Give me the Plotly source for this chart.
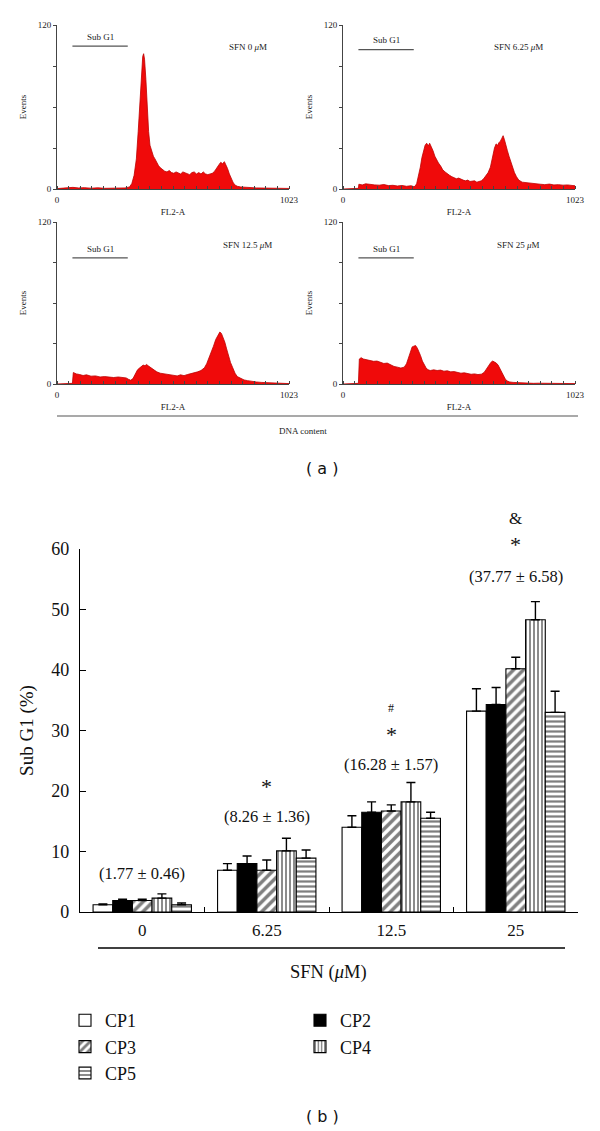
import plotly.graph_objects as go

# ---------------- data: panel (a) histograms (channel, events) ----------------
hist_0 = [(0,0.3),(20,0.5),(45,0.8),(70,1.2),(95,0.8),(120,1.0),(150,0.6),(180,0.9),(210,0.5),(240,0.7),
          (270,0.4),(300,0.8),(320,1.5),(330,4),(340,10),(350,22),(358,42),(365,65),(372,85),(378,97),
          (382,99),(386,95),(392,80),(398,60),(404,42),(410,32),(418,27),(425,24),(432,22),(440,19),
          (448,17),(456,15.5),(465,14),(475,13),(485,12.5),(495,13.5),(505,12),(515,11.5),(525,12.5),
          (535,12),(545,11),(555,12.5),(565,12),(575,11.5),(585,10.5),(595,12),(605,12.5),(615,11),
          (625,12),(635,11),(645,12.5),(655,11),(665,10.5),(675,11),(685,11.5),(695,13),(705,16),
          (715,18),(722,19.5),(730,18.5),(738,20),(745,18),(752,15),(760,11),(768,7.5),(776,5),(784,3),
          (795,2),(810,1.5),(830,1.2),(850,1.0),(880,0.8),(910,0.7),(940,0.6),(970,0.5),(1000,0.4),(1023,0.4)]

hist_625 = [(0,0),(60,0),(68,0.5),(70,3.5),(85,3),(100,3.8),(120,3.2),(140,3),(160,2.8),(180,3.3),
            (200,2.5),(220,2.7),(240,2.2),(260,2.6),(280,2),(300,2.4),(312,1.8),(318,2),(325,4),(333,9),
            (341,16),(348,23),(355,28),(362,32),(369,33.5),(376,31.5),(382,33.5),(389,31),(397,28),
            (405,24),(413,21),(421,19),(430,17),(440,14),(450,12.5),(460,11),(470,10),(480,9),(490,8.5),
            (500,7.5),(510,8),(520,7),(530,6.5),(540,6),(550,6.5),(560,5.5),(570,5.5),(580,6),(590,5),
            (600,5.5),(610,6),(620,7.5),(630,9.5),(640,12),(650,16),(660,24),(668,30),(675,33),(682,32),
            (688,34),(694,35),(700,37),(706,39),(712,36),(718,33),(725,28),(732,24),(740,20),(748,15),
            (756,12),(765,9),(775,6.5),(790,5),(810,4.5),(830,4),(850,3.8),(870,3.5),(890,3.2),(910,3.6),
            (930,3),(950,3.2),(970,2.8),(990,3),(1010,2.6),(1023,2.4)]

hist_125 = [(0,0),(60,0),(68,0.5),(72,8.5),(85,7.5),(100,7),(115,6.3),(130,6.8),(150,5.8),(170,6),
            (190,5.2),(210,5.5),(230,5),(250,4.8),(270,5.2),(290,4.6),(305,4.5),(315,3.5),(325,2.8),
            (335,4),(345,7),(355,10.5),(365,12),(372,13),(380,14),(388,13.5),(395,14.5),(402,13.5),
            (410,12.5),(418,11.5),(428,10.5),(440,9),(455,8),(470,7.5),(485,7),(500,6.8),(515,6.3),
            (530,6),(545,6.8),(560,6.2),(575,7),(590,7.5),(605,8.5),(620,9),(635,10),(650,12),(660,15),
            (670,19),(680,24),(690,28),(700,33),(710,36),(718,38.5),(725,37.5),(732,35),(740,31),(748,26),
            (756,21),(765,16),(775,12),(785,8),(795,5.5),(810,4),(825,3),(840,2.5),(860,1.8),(880,1.5),
            (900,1.2),(920,1),(940,0.8),(960,0.9),(980,0.5),(1000,0.4),(1023,0.3)]

hist_25 = [(0,0),(60,0),(68,0.5),(72,18.5),(80,19.5),(90,18.5),(105,18),(120,17.5),(135,16.8),(150,17),
           (165,16),(180,15.2),(195,15.5),(210,14),(225,13),(240,12.5),(255,11.8),(270,12.5),(280,15),
           (290,20),(298,24),(305,27.5),(312,28),(320,28.5),(328,26.5),(335,24),(342,21),(350,17),
           (358,14),(366,12),(375,10.5),(385,10),(400,10.5),(415,10),(430,10.3),(445,9.5),(460,9.8),
           (475,9),(490,9.2),(505,8.5),(520,8),(535,8.3),(550,7.5),(565,7.2),(580,7.5),(595,7),(610,7.3),
           (622,8.5),(632,11),(642,14),(652,16),(660,17),(668,16.5),(676,15.5),(684,14),(692,11.5),
           (700,8),(708,5.5),(716,3.5),(725,2.2),(735,1.5),(750,1.2),(765,1.0),(780,0.9),(800,0.6),
           (820,0.7),(840,0.5),(860,0.6),(880,0.5),(900,0.4),(920,0.5),(940,0.6),(960,0.4),(980,0.5),
           (1000,0.4),(1023,0.3)]

hist_labels = ["SFN 0 <i>μ</i>M", "SFN 6.25 <i>μ</i>M", "SFN 12.5 <i>μ</i>M", "SFN 25 <i>μ</i>M"]

# ---------------- data: panel (b) bars ----------------
doses = ["0", "6.25", "12.5", "25"]
series_names = ["CP1", "CP2", "CP3", "CP4", "CP5"]
cp1 = [1.2, 6.9, 14.0, 33.2]
cp2 = [1.9, 8.0, 16.5, 34.3]
cp3 = [1.9, 6.9, 16.7, 40.2]
cp4 = [2.3, 10.1, 18.2, 48.3]
cp5 = [1.2, 8.9, 15.5, 33.0]
err1 = [0.15, 1.1, 1.9, 3.7]
err2 = [0.2, 1.25, 1.7, 2.8]
err3 = [0.2, 1.7, 1.0, 1.9]
err4 = [0.7, 2.1, 3.2, 3.0]
err5 = [0.3, 1.35, 1.0, 3.5]
group_means = ["(1.77 ± 0.46)", "(8.26 ± 1.36)", "(16.28 ± 1.57)", "(37.77 ± 6.58)"]

W, H = 600, 1131
OFF = 8  # page body margin of the rendered html
SERIF = "Liberation Serif, Times New Roman, serif"

def px(x):
    return (x - OFF) / W

def py(y):
    return 1 - (y - OFF) / H

def ann(**kw):
    kw.setdefault("showarrow", False)
    kw.setdefault("xanchor", "center")
    kw.setdefault("yanchor", "middle")
    return kw

fig = go.Figure()

# ---------------- panel (a) ----------------
panels = [
    (hist_0,   (57, 289), (189, 25)),
    (hist_625, (343, 575), (189, 25)),
    (hist_125, (57, 289), (384, 222)),
    (hist_25,  (343, 575), (384, 222)),
]
subg1_y = [104.5, 102, 93.5, 93.5]
subg1_txt_y = [111, 109, 100, 100]
label_y = [104, 104, 103, 103]

shapes = []
annotations = []
for i, (hist, (xl, xr), (yb, yt)) in enumerate(panels):
    k = i + 1
    xa = "x" if k == 1 else f"x{k}"
    ya = "y" if k == 1 else f"y{k}"
    hx = [p[0] for p in hist]
    hy = [p[1] for p in hist]
    fig.add_trace(go.Scatter(
        x=hx, y=hy, xaxis=xa, yaxis=ya, mode="lines", fill="tozeroy",
        fillcolor="rgb(240,10,10)", line=dict(color="rgb(190,0,0)", width=0.8),
        showlegend=False, hoverinfo="skip"))
    ax = dict(
        domain=[px(xl), px(xr)], range=[0, 1023], anchor=ya, automargin=False,
        showline=True, linecolor="#444", linewidth=1, showgrid=False, zeroline=False,
        tickvals=[0, 1023], ticktext=["0", "1023"], ticks="", ticklabelstandoff=2,
        minor=dict(tick0=0, dtick=1023 / 20, ticks="inside", ticklen=3, tickcolor="#444"),
        tickfont=dict(family=SERIF, size=9, color="#222"),
        title=dict(text="FL2-A", font=dict(family=SERIF, size=9, color="#222"), standoff=4),
    )
    ay = dict(
        domain=[py(yb), py(yt)], range=[0, 120], anchor=xa, automargin=False,
        showline=True, linecolor="#444", linewidth=1, showgrid=False, zeroline=False,
        tickvals=[0, 30, 60, 90, 120], ticktext=["0", "", "", "", "120"],
        ticks="outside", ticklen=3, tickcolor="#444",
        tickfont=dict(family=SERIF, size=9, color="#222"),
        title=dict(text="Events", font=dict(family=SERIF, size=9, color="#222"), standoff=9),
    )
    fig.update_layout(**{("xaxis" if k == 1 else f"xaxis{k}"): ax,
                         ("yaxis" if k == 1 else f"yaxis{k}"): ay})
    shapes.append(dict(type="line", xref=xa, yref=ya, x0=68, x1=312,
                       y0=subg1_y[i], y1=subg1_y[i], line=dict(color="#555", width=1.2)))
    annotations.append(ann(xref=xa, yref=ya, x=190, y=subg1_txt_y[i], text="Sub G1",
                           font=dict(family=SERIF, size=9, color="#222")))
    annotations.append(ann(xref=xa, yref=ya, x=840 if k in (1, 3) else 775, y=label_y[i],
                           text=hist_labels[i], font=dict(family=SERIF, size=9, color="#222")))

shapes.append(dict(type="line", xref="paper", yref="paper", x0=px(57), x1=px(578),
                   y0=py(416), y1=py(416), line=dict(color="#555", width=1.2)))
annotations.append(ann(xref="paper", yref="paper", x=px(303), y=py(431), text="DNA content",
                       font=dict(family=SERIF, size=9, color="#222")))
annotations.append(ann(xref="paper", yref="paper", x=px(322), y=py(468), text="( a )",
                       font=dict(family="DejaVu Sans", size=16, color="#111")))

# ---------------- panel (b) ----------------
bar_vals = [cp1, cp2, cp3, cp4, cp5]
bar_errs = [err1, err2, err3, err4, err5]
patterns = [
    dict(shape="", fgcolor="black", bgcolor="white"),
    dict(shape="", fgcolor="black", bgcolor="black"),
    dict(shape="/", fgcolor="black", bgcolor="white", size=7, solidity=0.5),
    dict(shape="|", fgcolor="black", bgcolor="white", size=4, solidity=0.45),
    dict(shape="-", fgcolor="black", bgcolor="white", size=5, solidity=0.45),
]
colors = ["white", "black", "white", "white", "white"]
legends = ["legend", "legend2", "legend", "legend2", "legend"]
for name, vals, errs, pat, col, lg in zip(series_names, bar_vals, bar_errs, patterns, colors, legends):
    fig.add_trace(go.Bar(
        x=doses, y=vals, name=name, xaxis="x5", yaxis="y5", legend=lg,
        marker=dict(color=col, line=dict(color="black", width=1.1), pattern=pat),
        error_y=dict(type="data", array=errs, arrayminus=[0] * len(errs), symmetric=False,
                     color="black", thickness=1.4, width=4.5),
        hoverinfo="skip"))

fig.update_layout(
    xaxis5=dict(domain=[px(80), px(578)], anchor="y5", type="category",
                categoryorder="array", categoryarray=doses, range=[-0.5, 3.5],
                automargin=False, tickangle=0,
                showline=True, linecolor="black", linewidth=1.3, showgrid=False, zeroline=False,
                ticks="inside", tickson="boundaries", ticklen=5, tickcolor="black",
                ticklabelstandoff=2,
                tickfont=dict(family=SERIF, size=17, color="#111")),
    yaxis5=dict(domain=[py(912), py(549)], anchor="x5", range=[0, 60], dtick=10,
                automargin=False,
                showline=True, linecolor="black", linewidth=1.3, showgrid=False, zeroline=False,
                ticks="inside", ticklen=6, tickcolor="black", ticklabelstandoff=6,
                tickfont=dict(family=SERIF, size=18, color="#111"),
                title=dict(text="Sub G1 (%)", font=dict(family=SERIF, size=19, color="#111"),
                           standoff=12)),
    barmode="group", bargap=0.21, bargroupgap=0,
)

# annotation x positions use category indices of the dose axis
mean_y = [6.3, 15.75, 24.3, 55.4]
for idx, (txt, yv) in enumerate(zip(group_means, mean_y)):
    annotations.append(ann(xref="x5", yref="y5", x=idx, y=yv, text=txt,
                           font=dict(family=SERIF, size=16.5, color="#111")))
marks = [(1, 20.8, "*", 22), (2, 29.4, "*", 22), (2, 33.8, "#", 12),
         (3, 60.8, "*", 22), (3, 65.0, "&amp;", 17)]
for idx, yv, t, s in marks:
    # marks above the axis top are placed in the y5 domain frame (value / 60)
    annotations.append(ann(xref="x5", yref="y5 domain", x=idx, y=yv / 60, text=t,
                           font=dict(family=SERIF, size=s, color="#111")))

shapes.append(dict(type="line", xref="paper", yref="paper", x0=px(98), x1=px(565),
                   y0=py(948), y1=py(948), line=dict(color="black", width=1.3)))
annotations.append(ann(xref="paper", yref="paper", x=px(328), y=py(972), text="SFN (<i>μ</i>M)",
                       font=dict(family=SERIF, size=18.5, color="#111")))
annotations.append(ann(xref="paper", yref="paper", x=px(322), y=py(1116), text="( b )",
                       font=dict(family="DejaVu Sans", size=16, color="#111")))

legend_common = dict(orientation="v", xanchor="left", yanchor="top", bgcolor="rgba(0,0,0,0)",
                     font=dict(family=SERIF, size=18, color="#111"), tracegroupgap=0,
                     itemwidth=30, traceorder="normal")
fig.update_layout(
    legend=dict(x=px(65), y=py(1002), **legend_common),
    legend2=dict(x=px(300), y=py(1002), **legend_common),
)

fig.update_layout(
    width=W, height=H, autosize=False,
    margin=dict(l=0, r=0, t=0, b=0, autoexpand=False),
    paper_bgcolor="white", plot_bgcolor="white",
    shapes=shapes, annotations=annotations,
)

fig.write_html("out.html")
